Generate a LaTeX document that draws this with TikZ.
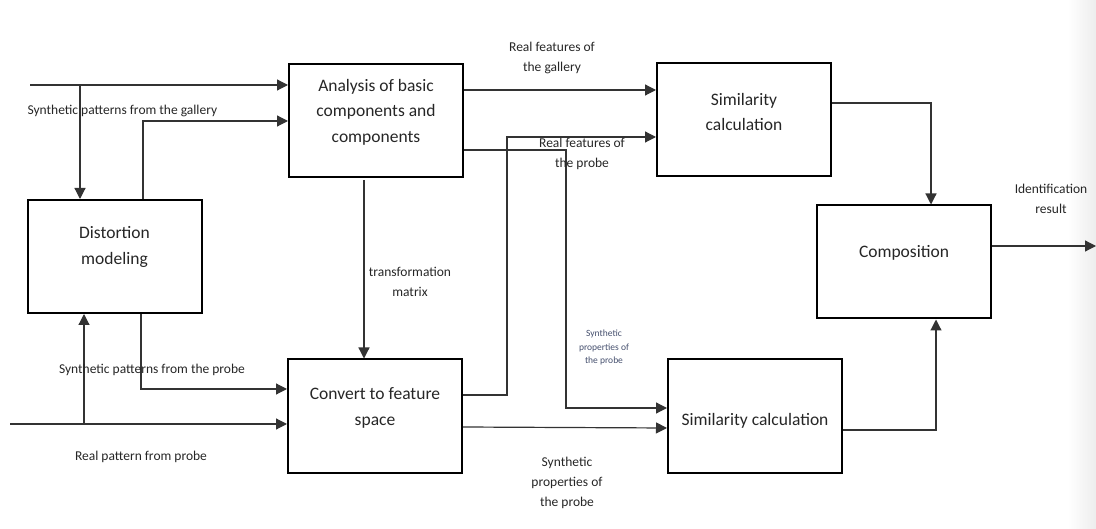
\documentclass[tikz,border=0pt]{standalone}
\usepackage{fontspec}
\setmainfont{Carlito}
\usetikzlibrary{arrows.meta}
\begin{document}
\begin{tikzpicture}[x=1pt,y=-1pt,
  box/.style={draw=black, line width=2pt, minimum width=174pt, minimum height=113pt, inner sep=0pt},
  boxtext/.style={align=center, font=\fontsize{17.5}{25.5}\selectfont, text=black!85},
  lbl/.style={align=center, font=\fontsize{13.5}{20}\selectfont, text=black!85},
  tiny/.style={align=center, font=\fontsize{9.5}{13.5}\selectfont, text={rgb,255:red,70;green,80;blue,110}},
  conn/.style={draw=black!80, line width=1.2pt},
  arr/.style={conn, -{Triangle[length=11pt,width=11pt]}}]
\useasboundingbox (0,0) rectangle (1096,529);
\shade[left color=white, right color=black!7] (1068,0) rectangle (1096,529);
% boxes
\node[box] (ana) at (376,120.5) {};
\node[box] (dist) at (114.5,256.5) {};
\node[box] (conv) at (375,416) {};
\node[box] (sim1) at (744,119.5) {};
\node[box] (comp) at (904,262) {};
\node[box] (sim2) at (755,416) {};
\node[boxtext] at (376,112) {Analysis of basic\\components and\\components};
\node[boxtext] at (114.5,247) {Distortion\\modeling};
\node[boxtext] at (375,408) {Convert to feature\\space};
\node[boxtext] at (744,112) {Similarity\\calculation};
\node[boxtext] at (904,253) {Composition};
\node[boxtext] at (755,421) {Similarity calculation};
% free ends and bends
\coordinate (gin) at (30,85);
\coordinate (gb) at (80,85);
\coordinate (pin) at (10,424);
\coordinate (pb) at (84,424);
\coordinate (out) at (1096,246);
% gallery input
\draw[arr] (gin) -- (ana.west |- gin);
\draw[arr] (gb) -- (gb |- dist.north);
\draw[arr] (dist.north -| 143,0) -- (143,121) -- (ana.west |- 0,121);
% probe input
\draw[arr] (pin) -- (conv.west |- pin);
\draw[arr] (pb) -- (pb |- dist.south);
\draw[arr] (dist.south -| 141,0) -- (141,389) -- (conv.west |- 0,389);
% analysis -> convert
\draw[arr] (364,180) -- (conv.north -| 364,0);
% analysis -> sim1
\draw[arr] (ana.east |- 0,90) -- (sim1.west |- 0,90);
% analysis -> sim2
\draw[arr] (ana.east |- 0,150) -- (566,150) -- (566,408) -- (sim2.west |- 0,408);
% convert -> sim1
\draw[arr] (conv.east |- 0,395) -- (507,395) -- (507,137) -- (sim1.west |- 0,137);
% convert -> sim2
\draw[arr] (conv.east |- 0,427) -- (sim2.west |- 0,428);
% sim1 -> comp
\draw[arr] (sim1.east |- 0,103) -- (931,103) -- (comp.north -| 931,0);
% sim2 -> comp
\draw[arr] (sim2.east |- 0,430) -- (936,430) -- (comp.south -| 936,0);
% comp -> out
\draw[arr] (comp.east |- out) -- (out);
% labels
\node[lbl, anchor=west] at (24,111) {Synthetic patterns from the gallery};
\node[lbl] at (152,370) {Synthetic patterns from the probe};
\node[lbl] at (141,457) {Real pattern from probe};
\node[lbl] at (552,57.5) {Real features of\\the gallery};
\node[lbl] at (582,154) {Real features of\\the probe};
\node[lbl] at (410,282) {transformation\\matrix};
\node[tiny] at (604,347.5) {Synthetic\\properties of\\the probe};
\node[lbl] at (567,483) {Synthetic\\properties of\\the probe};
\node[lbl] at (1051,199) {Identification\\result};
\end{tikzpicture}
\end{document}
